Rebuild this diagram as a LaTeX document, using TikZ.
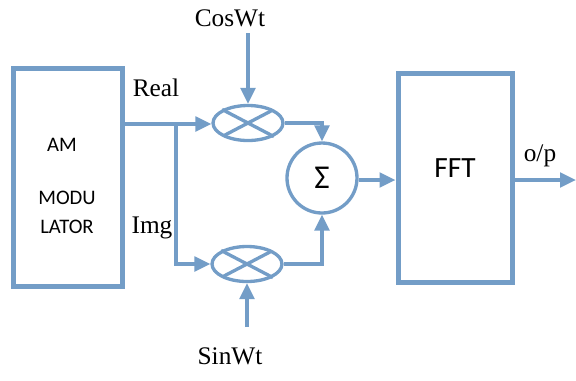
\documentclass[tikz,border=0pt]{standalone}
\usepackage{fontspec}
\setmainfont{Liberation Serif}
\newfontfamily\blockfont{Carlito}
\usetikzlibrary{arrows.meta,shapes.geometric}
\definecolor{linkblue}{RGB}{115,157,199}

\tikzset{every picture/.style={line width=0.75pt}}
\tikzset{
  blk/.style={draw=linkblue,line width=3.75pt,inner sep=0pt},
  mult/.style={ellipse,draw=linkblue,line width=2.5pt,minimum width=52.5pt,minimum height=26.25pt,inner sep=0pt},
  sumc/.style={circle,draw=linkblue,line width=2.5pt,minimum size=52.5pt,inner sep=0pt},
  conn/.style={draw=linkblue,line width=2.5pt},
  arr/.style={conn,-{Triangle[length=12pt,width=11pt]}},
  lbl/.style={font=\fontsize{19}{22}\selectfont,inner sep=0pt},
  sanslbl/.style={font=\blockfont\fontsize{15.5}{18}\selectfont,inner sep=0pt}
}

\begin{document}
\begin{tikzpicture}[x=0.75pt,y=0.75pt,yscale=-1,xscale=1]
\useasboundingbox (0,0) rectangle (576,380);

%Shape: Rectangle [id:am]
\node[blk,minimum width=81.75pt,minimum height=163.5pt] (am) at (67.5,177) {};
%Shape: Rectangle [id:fft]
\node[blk,minimum width=85.5pt,minimum height=156.75pt] (fft) at (455,177.5) {};
%Shape: Ellipse [id:m1]
\node[mult] (m1) at (248,123) {};
%Shape: Ellipse [id:m2]
\node[mult] (m2) at (247,264) {};
%Shape: Circle [id:sum]
\node[sumc,font=\blockfont\fontsize{25}{28}\selectfont] (sum) at (322,178) {Σ};

% crosses
\draw[conn,shorten <=1.2pt,shorten >=1.2pt] (m1.north west) -- (m1.south east) (m1.north east) -- (m1.south west);
\draw[conn,shorten <=1.2pt,shorten >=1.2pt] (m2.north west) -- (m2.south east) (m2.north east) -- (m2.south west);

% Text Node
\node[lbl] (cos) at (230,18) {CosWt};
% Text Node
\node[lbl] (sin) at (230,356) {SinWt};
% Text Node
\node[lbl] (real) at (156,88) {Real};
% Text Node
\node[lbl] (img) at (152,228) {Img};
% Text Node
\node[lbl] (op) at (540,156) {o/p};
% Text Node
\node[sanslbl] (amtxt) at (62,145) {AM};
% Text Node
\node[sanslbl] (modu) at (67,198) {MODU};
% Text Node
\node[sanslbl] (lator) at (67,227) {LATOR};
% Text Node
\node[font=\blockfont\fontsize{22}{26}\selectfont,inner sep=0pt] (ffttxt) at (455,168) {FFT};

\coordinate (split) at (176,124);
\coordinate (costop) at (248,33);
\coordinate (sinbot) at (247,327);
\coordinate (out) at (576,180);

%Connectors
\draw[arr] (am.east |- split) -- (split) -- (m1.west |- split);
\draw[arr] (split) |- (m2.west);
\draw[arr] (costop) -- (m1.north);
\draw[arr] (sinbot) -- (m2.south);
\draw[arr] (m1.east) -| (sum.north);
\draw[arr] (m2.east) -| (sum.south);
\draw[arr] (sum.east |- out) -- (fft.west |- out);
\draw[arr] (fft.east |- out) -- (out);

\end{tikzpicture}
\end{document}
